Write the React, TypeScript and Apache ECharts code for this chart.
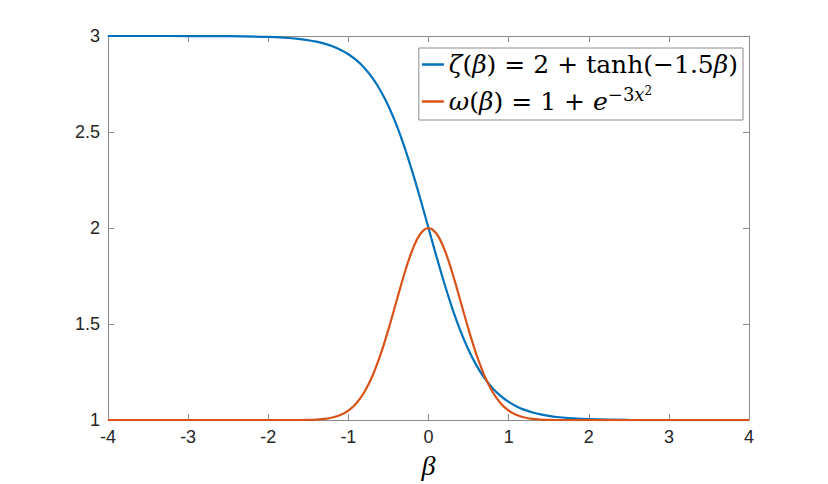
import React, { useEffect, useRef } from "react";
import * as echarts from "echarts";

const betaValues = [
  -4, -3.5, -3, -2.5, -2, -1.8, -1.6, -1.5, -1.4, -1.3, -1.2, -1.1, -1.0, -0.9, -0.8, -0.7, -0.6,
  -0.5, -0.4, -0.3, -0.2, -0.1, 0, 0.1, 0.2, 0.3, 0.4, 0.5, 0.6, 0.7, 0.8, 0.9, 1.0, 1.1, 1.2,
  1.3, 1.4, 1.5, 1.6, 1.8, 2, 2.5, 3, 3.5, 4,
];

const zetaValues = [
  3.0, 2.9999, 2.9998, 2.9989, 2.9951, 2.991, 2.9837, 2.978, 2.9704, 2.9603, 2.9468, 2.9289,
  2.9051, 2.874, 2.8336, 2.7818, 2.7163, 2.6351, 2.537, 2.4219, 2.2913, 2.1489, 2.0, 1.8511,
  1.7087, 1.5781, 1.463, 1.3649, 1.2837, 1.2182, 1.1664, 1.126, 1.0949, 1.0711, 1.0532, 1.0397,
  1.0296, 1.022, 1.0163, 1.009, 1.0049, 1.0011, 1.0002, 1.0001, 1.0,
];

const omegaValues = [
  1.0, 1.0, 1.0, 1.0, 1.0, 1.0001, 1.0005, 1.0012, 1.0028, 1.0063, 1.0133, 1.0265, 1.0498,
  1.088, 1.1466, 1.2299, 1.3396, 1.4724, 1.6188, 1.7634, 1.8869, 1.9704, 2.0, 1.9704, 1.8869,
  1.7634, 1.6188, 1.4724, 1.3396, 1.2299, 1.1466, 1.088, 1.0498, 1.0265, 1.0133, 1.0063, 1.0028,
  1.0012, 1.0005, 1.0001, 1.0, 1.0, 1.0, 1.0, 1.0,
];

const seriesNames = ["zeta", "omega"];
const legendLabels: Record<string, string> = {
  zeta: "{i|ζ}{r|(}{i|β}{r|)}{op|=}{r|2}{op|+}{r|tanh(−1.5}{i|β}{r|)}",
  omega: "{i|ω}{r|(}{i|β}{r|)}{op|=}{r|1}{op|+}{i|e}{sup|−3}{supi|x}{sup2|2}",
};

const AXIS_COLOR = "#8a8a8a";
const LABEL_COLOR = "#262626";
const SERIF = "Liberation Serif";
const MATH = "DejaVu Serif";

export default function App() {
  const ref = useRef<HTMLDivElement>(null);

  useEffect(() => {
    if (!ref.current) return;
    const chart = echarts.init(ref.current, undefined, { renderer: "svg" });

    const tickLabel = {
      color: LABEL_COLOR,
      fontFamily: "Liberation Sans",
      fontSize: 18,
    };
    const baseAxisLine = { show: true, onZero: false, lineStyle: { color: AXIS_COLOR, width: 1 } };
    const baseTick = { show: true, inside: true, length: 6, lineStyle: { color: AXIS_COLOR, width: 1 } };

    chart.setOption({
      animation: false,
      backgroundColor: "#ffffff",
      grid: { left: 108, top: 36, right: 79, bottom: 63, containLabel: false },
      xAxis: [
        {
          type: "value",
          position: "bottom",
          min: -4,
          max: 4,
          interval: 1,
          axisLine: baseAxisLine,
          axisTick: baseTick,
          splitLine: { show: false },
          axisLabel: { ...tickLabel, margin: 8, showMinLabel: true, showMaxLabel: true },
          name: "β",
          nameLocation: "middle",
          nameGap: 26,
          nameTextStyle: {
            fontFamily: SERIF,
            fontStyle: "italic",
            fontSize: 28,
            color: "#000",
          },
        },
        {
          type: "value",
          position: "top",
          min: -4,
          max: 4,
          interval: 1,
          axisLine: baseAxisLine,
          axisTick: baseTick,
          splitLine: { show: false },
          axisLabel: { show: false },
        },
      ],
      yAxis: [
        {
          type: "value",
          position: "left",
          min: 1,
          max: 3,
          interval: 0.5,
          axisLine: baseAxisLine,
          axisTick: baseTick,
          splitLine: { show: false },
          axisLabel: { ...tickLabel, margin: 8, showMinLabel: true, showMaxLabel: true },
        },
        {
          type: "value",
          position: "right",
          min: 1,
          max: 3,
          interval: 0.5,
          axisLine: baseAxisLine,
          axisTick: baseTick,
          splitLine: { show: false },
          axisLabel: { show: false },
        },
      ],
      legend: {
        orient: "vertical",
        right: 85,
        top: 48,
        backgroundColor: "#ffffff",
        borderColor: AXIS_COLOR,
        borderWidth: 1,
        borderRadius: 0,
        padding: [0, 5, 2, 3],
        itemGap: 4,
        itemWidth: 22,
        itemHeight: 2.5,
        icon: "rect",
        data: seriesNames,
        formatter: (name: string) => legendLabels[name],
        textStyle: {
          color: "#000",
          fontFamily: MATH,
          fontSize: 25,
          lineHeight: 33,
          rich: {
            i: { fontFamily: MATH, fontStyle: "italic", fontSize: 25, lineHeight: 33, color: "#000" },
            r: { fontFamily: MATH, fontSize: 25, lineHeight: 33, color: "#000" },
            op: { fontFamily: MATH, fontSize: 25, lineHeight: 33, color: "#000", padding: [0, 8, 0, 8] },
            sup: {
              fontFamily: MATH,
              fontSize: 18,
              color: "#000",
              verticalAlign: "top",
              lineHeight: 9,
            },
            supi: {
              fontFamily: MATH,
              fontStyle: "italic",
              fontSize: 18,
              color: "#000",
              verticalAlign: "top",
              lineHeight: 9,
            },
            sup2: {
              fontFamily: MATH,
              fontSize: 12,
              color: "#000",
              verticalAlign: "top",
              lineHeight: 1,
            },
          },
        },
      },
      series: [
        {
          name: "zeta",
          type: "line",
          xAxisIndex: 0,
          yAxisIndex: 0,
          data: betaValues.map((b, k) => [b, zetaValues[k]]),
          showSymbol: false,
          symbol: "none",
          smooth: 0.4,
          lineStyle: { color: "#0072BD", width: 2.2 },
          itemStyle: { color: "#0072BD" },
          z: 2,
        },
        {
          name: "omega",
          type: "line",
          xAxisIndex: 0,
          yAxisIndex: 0,
          data: betaValues.map((b, k) => [b, omegaValues[k]]),
          showSymbol: false,
          symbol: "none",
          smooth: 0.4,
          lineStyle: { color: "#D95319", width: 2.2 },
          itemStyle: { color: "#D95319" },
          z: 3,
        },
      ],
    });

    return () => chart.dispose();
  }, []);

  return <div ref={ref} style={{ width: 828, height: 484, position: "absolute", left: 0, top: 0 }} />;
}
